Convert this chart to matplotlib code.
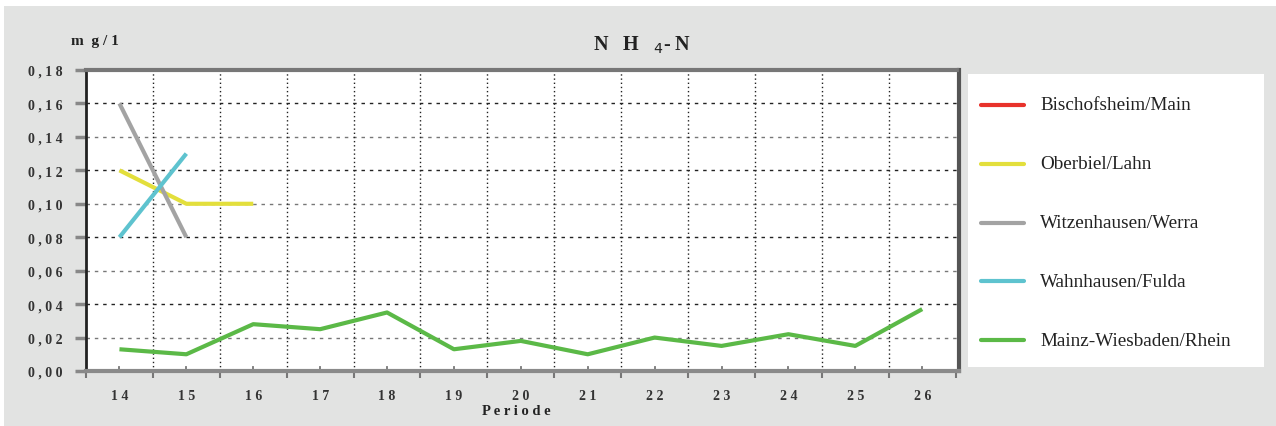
import matplotlib
matplotlib.use("Agg")
import matplotlib.pyplot as plt
import numpy as np

# ---- data ----
periods = [14, 15, 16, 17, 18, 19, 20, 21, 22, 23, 24, 25, 26]
bischofsheim_x = []
bischofsheim_y = []
oberbiel_x = [14, 15, 16]
oberbiel_y = [0.12, 0.10, 0.10]
witzenhausen_x = [14, 15]
witzenhausen_y = [0.16, 0.08]
wahnhausen_x = [14, 15]
wahnhausen_y = [0.08, 0.13]
mainz_x = periods
mainz_y = [0.013, 0.010, 0.028, 0.025, 0.035, 0.013, 0.018, 0.010, 0.020, 0.015, 0.022, 0.015, 0.037]
y_ticks = [0.0, 0.02, 0.04, 0.06, 0.08, 0.10, 0.12, 0.14, 0.16, 0.18]
y_tick_labels = ["0,00", "0,02", "0,04", "0,06", "0,08", "0,10", "0,12", "0,14", "0,16", "0,18"]
series_names = ["Bischofsheim/Main", "Oberbiel/Lahn", "Witzenhausen/Werra",
                "Wahnhausen/Fulda", "Mainz-Wiesbaden/Rhein"]
series_colors = ["#e8322b", "#e3df3c", "#a3a3a3", "#5ec3cf", "#5bb947"]

W, H = 1276, 427
fig = plt.figure(figsize=(W / 100, H / 100), dpi=100, facecolor="white")
fig.patches.append(plt.Rectangle((4 / W, 0), 1 - 4 / W, 1 - 7 / H, transform=fig.transFigure,
                                 facecolor="#e2e3e2", edgecolor="none", zorder=-10))

def spaced(s, sep="\u2009"):
    return sep.join(list(s))

ax_l, ax_r, ax_t, ax_b = 86, 959, 71, 372
ax = fig.add_axes([ax_l / W, 1 - ax_b / H, (ax_r - ax_l) / W, (ax_b - ax_t) / H])
ax.set_facecolor("white")
ax.set_xlim(13.5, 26.55)
ax.set_ylim(0, 0.18)

all_x = [bischofsheim_x, oberbiel_x, witzenhausen_x, wahnhausen_x, mainz_x]
all_y = [bischofsheim_y, oberbiel_y, witzenhausen_y, wahnhausen_y, mainz_y]
for xs, ys, c, n in zip(all_x, all_y, series_colors, series_names):
    ax.plot(xs, ys, color=c, lw=3.0, solid_capstyle="butt", label=n, zorder=3)

for i, yv in enumerate(y_ticks[1:-1]):
    ax.axhline(yv, color="#222222" if i % 2 else "#777777", lw=1.0,
               ls=(0, (2.5, 3.5)), zorder=1)
for b in np.arange(14.5, 26.0, 1.0):
    ax.axvline(b, color="#222222", lw=1.0, ls=(0, (1, 2)), zorder=1)

ax.set_yticks(y_ticks)
ax.set_yticklabels([spaced(t, " ") for t in y_tick_labels], family="Liberation Serif",
                   fontsize=10, fontweight="bold", color="#333333")
ax.set_xticks(periods)
ax.set_xticklabels([spaced(str(p), " ") for p in periods], family="Liberation Serif",
                   fontsize=10, fontweight="bold", color="#333333")
ax.tick_params(axis="y", length=8, width=2.5, color="#888888", pad=9)
ax.tick_params(axis="x", which="major", length=0, pad=13)
ax.set_xticks(np.arange(13.5, 26.6, 1.0), minor=True)
ax.tick_params(axis="x", which="minor", length=5, width=1.5, color="#777777", direction="out")
for p in periods:
    ax.plot([p, p], [0, 0.0025], color="#777777", lw=1.3, zorder=2, clip_on=False)

ax.spines["left"].set_color("#222222")
ax.spines["left"].set_linewidth(2.0)
ax.spines["bottom"].set_color("#8a8a8a")
ax.spines["bottom"].set_linewidth(3.0)
ax.spines["top"].set_color("#777777")
ax.spines["top"].set_linewidth(3.0)
ax.spines["top"].set_linestyle((0, (2, 1)))
ax.spines["right"].set_color("#555555")
ax.spines["right"].set_linewidth(3.0)
ax.spines["right"].set_linestyle((0, (1, 1)))

fig.text(95 / W, 1 - 42 / H, "m  g / 1", family="Liberation Serif", fontsize=11,
         fontweight="bold", color="#222222", ha="center", va="center")
fig.text(642 / W, 1 - 45 / H, "N   H   $_{4}$- N", family="Liberation Serif", fontsize=14.5,
         fontweight="bold", color="#222222", ha="center", va="center")
fig.text(516 / W, 1 - 412 / H, spaced("Periode", " "), family="Liberation Serif", fontsize=10.5,
         fontweight="bold", color="#222222", ha="center", va="center")

lx0, lx1, ly0, ly1 = 968, 1264, 75, 368
lax = fig.add_axes([lx0 / W, 1 - ly1 / H, (lx1 - lx0) / W, (ly1 - ly0) / H])
lax.set_facecolor("white")
lax.set_xlim(lx0, lx1)
lax.set_ylim(ly1, ly0)
lax.set_xticks([])
lax.set_yticks([])
for s in lax.spines.values():
    s.set_visible(False)
for i, (n, c) in enumerate(zip(series_names, series_colors)):
    yy = 106 + i * 58.8
    lax.plot([981, 1024], [yy, yy], color=c, lw=3.0, solid_capstyle="round")
    lax.text(1040, yy, n, family="Liberation Serif", fontsize=13.8, color="#222222",
             va="center", ha="left")

fig.savefig("out.png", dpi=100, facecolor=fig.get_facecolor())
